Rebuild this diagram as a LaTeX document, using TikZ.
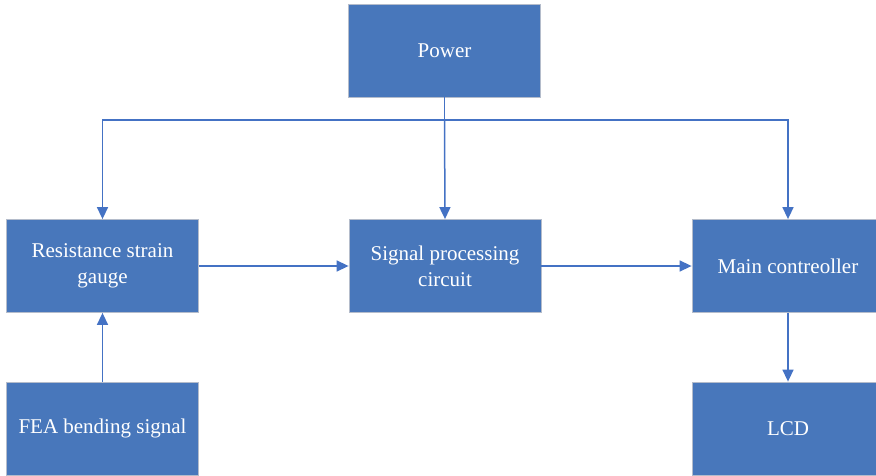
\documentclass[tikz,border=0pt]{standalone}
\usepackage{fontspec}
\setmainfont{Liberation Serif}
\usetikzlibrary{arrows.meta}
\definecolor{boxblue}{HTML}{4877BB}
\definecolor{lineblue}{HTML}{4472C4}
\definecolor{edgegray}{HTML}{B4BCCB}
\begin{document}
\begin{tikzpicture}[x=1pt,y=-1pt,
  blockbox/.style={fill=boxblue,draw=edgegray,line width=0.8pt,text=white,
    minimum width=192pt,minimum height=93pt,align=center,inner sep=2pt,
    font=\fontsize{21}{26}\selectfont},
  conn/.style={draw=lineblue,line width=1.5pt},
  arr/.style={conn,-{Triangle[length=12pt,width=11pt]}}]
\useasboundingbox (0,0) rectangle (876,476);
\clip (0,0) rectangle (876,476);
\node[blockbox] (power) at (444.5,50.5) {Power};
\node[blockbox] (rsg) at (102.5,266) {Resistance strain\\gauge};
\node[blockbox] (spc) at (445,266) {Signal processing\\circuit};
\node[blockbox] (main) at (788,266) {Main contreoller};
\node[blockbox] (fea) at (102.5,428.5) {FEA bending signal};
\node[blockbox] (lcd) at (788,428.5) {LCD};
\coordinate (bus) at (444.5,120);
\coordinate (busl) at (102.5,120);
\coordinate (busr) at (788,120);
\draw[conn] (power.south) -- (bus);
\draw[arr] (bus) -- (spc.north);
\draw[arr] (bus) -- (busl) -- (rsg.north);
\draw[arr] (bus) -- (busr) -- (main.north);
\draw[arr] (rsg.east) -- (spc.west);
\draw[arr] (spc.east) -- (main.west);
\draw[arr] (fea.north) -- (rsg.south);
\draw[arr] (main.south) -- (lcd.north);
\end{tikzpicture}
\end{document}
